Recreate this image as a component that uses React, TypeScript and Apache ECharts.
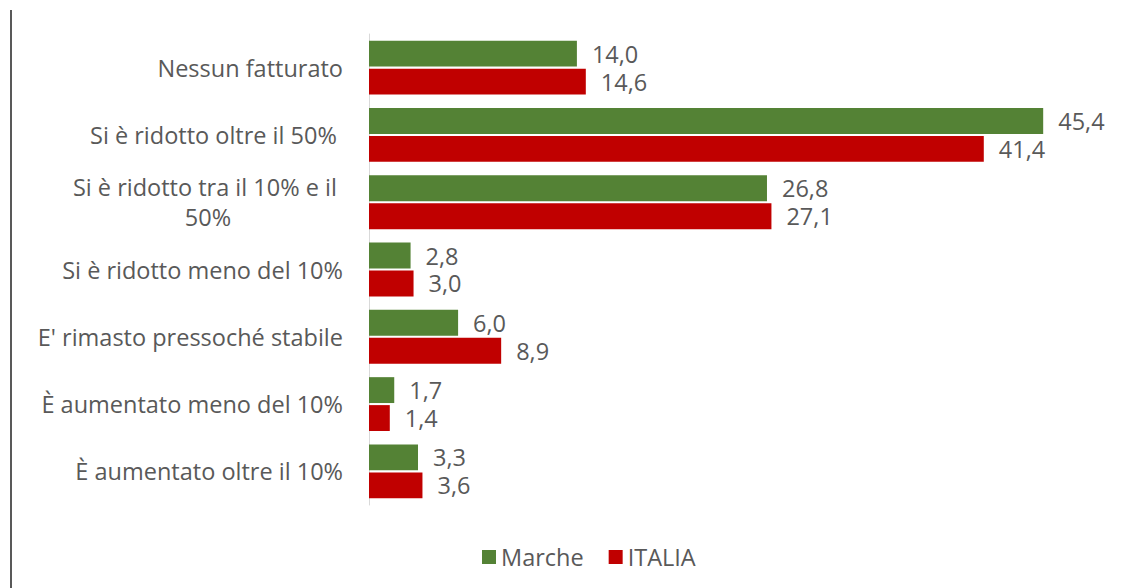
import React, { useEffect, useRef } from "react";
import * as echarts from "echarts";

const categories = [
  "Nessun fatturato",
  "Si è ridotto oltre il 50% ",
  "Si è ridotto tra il 10% e il 50%",
  "Si è ridotto meno del 10%",
  "E' rimasto pressoché stabile",
  "È aumentato meno del 10%",
  "È aumentato oltre il 10%",
];
const marche = [14.0, 45.4, 26.8, 2.8, 6.0, 1.7, 3.3];
const italia = [14.6, 41.4, 27.1, 3.0, 8.9, 1.4, 3.6];
const seriesNames = ["Marche", "ITALIA"];

const FONT = "'Open Sans', sans-serif";
const TXT = "#595959";
const FS = 23.5;
const fmt = (v: number) => v.toFixed(1).replace(".", ",");

export default function App() {
  const ref = useRef<HTMLDivElement>(null);
  useEffect(() => {
    if (!ref.current) return;
    const chart = echarts.init(ref.current, undefined, { renderer: "svg" });
    const labelCfg = {
      show: true,
      position: "right" as const,
      distance: 15,
      color: TXT,
      fontSize: FS,
      lineHeight: 25,
      fontFamily: FONT,
      formatter: (p: any) => fmt(p.value),
    };
    chart.setOption({
      animation: false,
      backgroundColor: "#ffffff",
      textStyle: { fontFamily: FONT },
      grid: { left: 369, top: 34, width: 742.5, height: 471, containLabel: false },
      xAxis: {
        type: "value",
        min: 0,
        max: 50,
        show: false,
        splitLine: { show: false },
      },
      yAxis: {
        type: "category",
        inverse: true,
        data: categories,
        axisLine: { show: true, lineStyle: { color: "#d9d9d9", width: 1 } },
        axisTick: { show: false },
        axisLabel: {
          margin: 26,
          color: TXT,
          fontSize: FS,
          fontFamily: FONT,
          formatter: (v: string) => {
            if (v === "Si è ridotto tra il 10% e il 50%") {
              return "{a|Si è ridotto tra il 10% e il }\n{b|50%}";
            }
            return "{a|" + v + "}";
          },
          rich: {
            a: { color: TXT, fontSize: FS, fontFamily: FONT, lineHeight: 30 },
            b: { color: TXT, fontSize: FS, fontFamily: FONT, lineHeight: 30, align: "center" },
          },
        },
      },
      legend: {
        left: 477,
        top: 540,
        itemWidth: 14,
        itemHeight: 14,
        itemGap: 25,
        icon: "rect",
        data: seriesNames,
        textStyle: { color: TXT, fontSize: FS, fontFamily: FONT },
      },
      series: [
        {
          name: seriesNames[0],
          type: "bar",
          data: marche,
          itemStyle: { color: "#548235" },
          barCategoryGap: "20%",
          barGap: "8%",
          label: labelCfg,
        },
        {
          name: seriesNames[1],
          type: "bar",
          data: italia,
          itemStyle: { color: "#C00000" },
          barCategoryGap: "20%",
          barGap: "8%",
          label: labelCfg,
        },
      ],
      graphic: [
        {
          type: "line",
          shape: { x1: 11, y1: 10, x2: 11, y2: 588 },
          style: { stroke: "#222222", lineWidth: 1.5 },
        },
      ],
    });
    return () => chart.dispose();
  }, []);
  return (
    <div
      ref={ref}
      style={{ position: "fixed", left: 0, top: 0, width: 1134, height: 588 }}
    />
  );
}
